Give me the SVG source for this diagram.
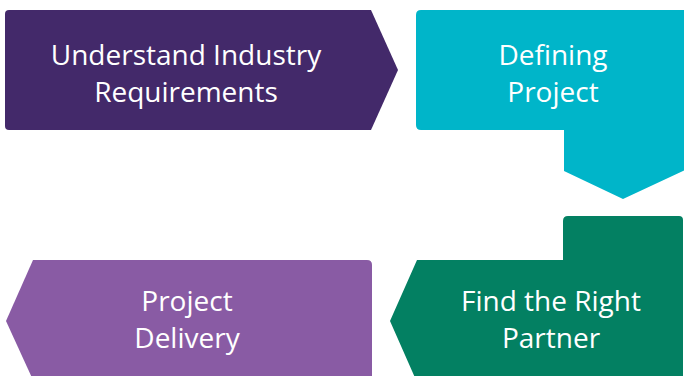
<svg xmlns="http://www.w3.org/2000/svg" width="684" height="376" viewBox="0 0 684 376">
<style>
text{font-family:"Open Sans","Noto Sans","Liberation Sans",sans-serif;font-size:28px;fill:#ffffff;text-anchor:middle}
</style>
<rect width="684" height="376" fill="#ffffff"/>
<g id="step1">
<path d="M5,14 Q5,10 9,10 L371,10 L398,70 L371,130 L9,130 Q5,130 5,126 Z" fill="#43296A"/>
<text x="186" y="65">Understand Industry</text>
<text x="186" y="102">Requirements</text>
</g>
<g id="step2">
<path d="M416,15 Q416,10 421,10 L690,10 L690,168 L683,171 L623,199 L564,171 L564,130 L421,130 Q416,130 416,125 Z" fill="#00B5C9"/>
<text x="553" y="65">Defining</text>
<text x="553" y="102">Project</text>
</g>
<g id="step3">
<path d="M568,216 L679,216 Q683,216 683,220 L683,380 L416,380 L390,321 L417,260 L563,260 L563,221 Q563,216 568,216 Z" fill="#038062"/>
<text x="551" y="311">Find the Right</text>
<text x="551" y="348">Partner</text>
</g>
<g id="step4">
<path d="M33,260 L367,260 Q372,260 372,265 L372,380 L33,380 L6,321 Z" fill="#895BA4"/>
<text x="187" y="311">Project</text>
<text x="187" y="348">Delivery</text>
</g>
<g id="connectors"></g>
</svg>
